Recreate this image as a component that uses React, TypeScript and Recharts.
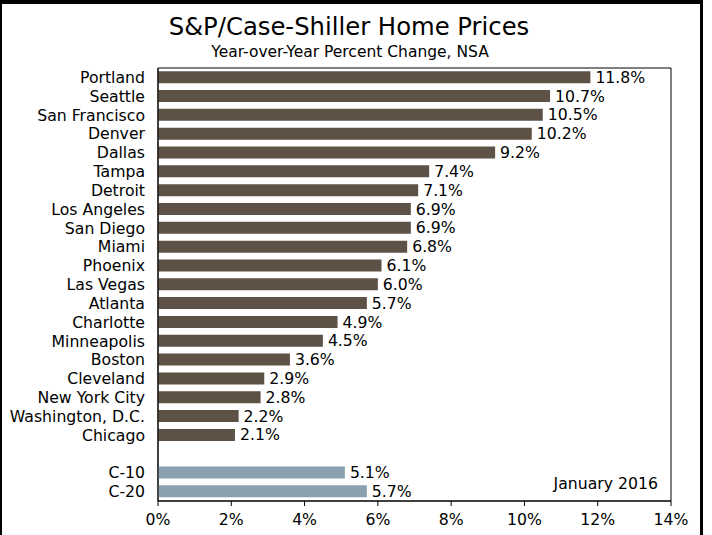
import React from "react";
import {
  BarChart,
  Bar,
  XAxis,
  YAxis,
  Cell,
  LabelList,
  ReferenceArea,
  Customized,
} from "recharts";

const cityNames = [
  "Portland", "Seattle", "San Francisco", "Denver", "Dallas", "Tampa", "Detroit",
  "Los Angeles", "San Diego", "Miami", "Phoenix", "Las Vegas", "Atlanta", "Charlotte",
  "Minneapolis", "Boston", "Cleveland", "New York City", "Washington, D.C.", "Chicago",
];
const cityValues = [
  11.8, 10.7, 10.5, 10.2, 9.2, 7.4, 7.1, 6.9, 6.9, 6.8, 6.1, 6.0, 5.7, 4.9, 4.5, 3.6,
  2.9, 2.8, 2.2, 2.1,
];
const compositeNames = ["C-10", "C-20"];
const compositeValues = [5.1, 5.7];
const xTicks = [0, 2, 4, 6, 8, 10, 12, 14];

const TITLE = "S&P/Case-Shiller Home Prices";
const SUBTITLE = "Year-over-Year Percent Change, NSA";
const NOTE = "January 2016";

const CITY_COLOR = "#5E5145";
const COMPOSITE_COLOR = "#8AA2B0";
const FONT = "'DejaVu Sans', Verdana, sans-serif";
const FS = 15.7;

const data = [
  ...cityNames.map((n, i) => ({ name: n, value: cityValues[i], kind: "city" })),
  { name: " ", value: null, kind: "blank" },
  ...compositeNames.map((n, i) => ({ name: n, value: compositeValues[i], kind: "composite" })),
];

const Texts = () => (
  <g fontFamily={FONT} fill="#000">
    <text x={349} y={35} textAnchor="middle" fontSize={24.3}>{TITLE}</text>
    <text x={350} y={57} textAnchor="middle" fontSize={15.5}>{SUBTITLE}</text>
    <text x={658} y={489} textAnchor="end" fontSize={FS}>{NOTE}</text>
  </g>
);

export default function App() {
  return (
    <div style={{ position: "absolute", left: 0, top: 0, width: 712, height: 535, background: "#fff", overflow: "hidden" }}>
      <div
        style={{
          position: "absolute",
          left: 0,
          top: 0,
          width: 703,
          height: 600,
          boxSizing: "border-box",
          borderLeft: "2px solid #000",
          borderTop: "4px solid #000",
          borderRight: "3px solid #000",
        }}
      />
      <div style={{ position: "absolute", left: 0, top: 0 }}>
        <BarChart
          width={712}
          height={535}
          data={data}
          layout="vertical"
          margin={{ top: 68, right: 41, bottom: 0, left: 0 }}
          barCategoryGap="17%"
        >
          <XAxis
            type="number"
            domain={[0, 14]}
            ticks={xTicks}
            height={34}
            tickFormatter={(v) => `${v}%`}
            axisLine={{ stroke: "#000" }}
            tickLine={{ stroke: "#000" }}
            tickSize={5}
            tickMargin={8}
            tick={{ fill: "#000", fontSize: FS, fontFamily: FONT }}
            interval={0}
          />
          <YAxis
            type="category"
            dataKey="name"
            width={158}
            axisLine={{ stroke: "#000" }}
            tickLine={false}
            tickSize={0}
            tickMargin={13}
            tick={{ fill: "#000", fontSize: FS, fontFamily: FONT }}
            interval={0}
          />
          <ReferenceArea x1={0} x2={14} stroke="#000" strokeWidth={1} fill="none" fillOpacity={0} />
          <Bar dataKey="value" isAnimationActive={false}>
            {data.map((d, i) => (
              <Cell key={i} fill={d.kind === "composite" ? COMPOSITE_COLOR : CITY_COLOR} />
            ))}
            <LabelList
              dataKey="value"
              position="right"
              offset={5}
              formatter={(v: any) => (v == null ? "" : `${Number(v).toFixed(1)}%`)}
              style={{ fill: "#000", fontSize: FS, fontFamily: FONT }}
            />
          </Bar>
          <Customized component={Texts} />
        </BarChart>
      </div>
    </div>
  );
}
